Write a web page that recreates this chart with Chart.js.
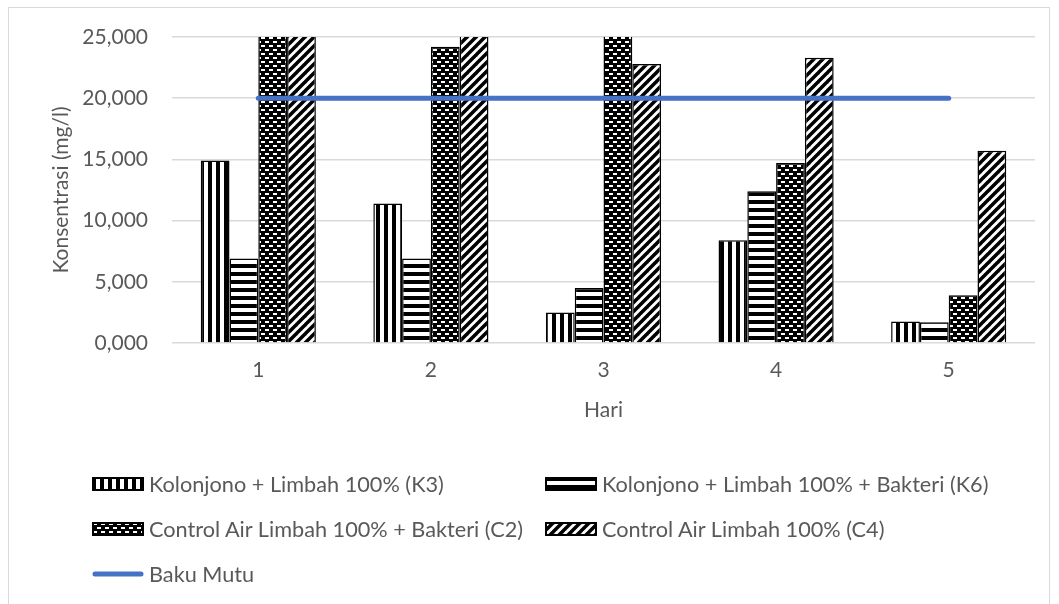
<!DOCTYPE html>
<html>
<head>
<meta charset="utf-8">
<script src="https://cdn.jsdelivr.net/npm/chart.js@4.4.0/dist/chart.umd.min.js"></script>
<style>
  body { margin: 0; background: #fff; font-family: Lato, "Open Sans", sans-serif; }
  #wrap { position: relative; width: 1059px; height: 604px; overflow: hidden; }
  #frame { position: absolute; left: 8px; top: 7px; width: 1042px; height: 640px; border: 1px solid #d9d9d9; box-sizing: border-box; }
  #chart { position: absolute; left: 0; top: 0; }
  .item { position: absolute; height: 26px; display: flex; align-items: center; color: #595959; font-size: 21.7px; white-space: nowrap; }
  .item canvas { margin-right: 5px; }
</style>
</head>
<body>
<div id="wrap">
  <div id="frame"></div>
  <canvas id="chart" width="1059" height="604"></canvas>
  <div id="legend"></div>
</div>
<script>
// data (mg/l), sumbu dipotong di 25
const days = ['1', '2', '3', '4', '5'];
const k3 = [14.9, 11.4, 2.5, 8.4, 1.75];
const k6 = [6.9, 6.9, 4.5, 12.4, 1.7];
const c2 = [27.0, 24.2, 26.5, 14.7, 3.9];
const c4 = [28.5, 27.5, 22.8, 23.3, 15.7];
const bakuMutu = [20, 20, 20, 20, 20];
const yTicks = [0, 5, 10, 15, 20, 25];

const labels = [
  'Kolonjono + Limbah 100% (K3)',
  'Kolonjono + Limbah 100% + Bakteri (K6)',
  'Control Air Limbah 100% + Bakteri (C2)',
  'Control Air Limbah 100% (C4)',
  'Baku Mutu'
];

// bikin pattern hitam-putih ala Excel
function patternTile(kind) {
  const s = kind === 'diag' ? 9 : 8;
  const c = document.createElement('canvas');
  c.width = s; c.height = s;
  const g = c.getContext('2d');
  g.fillStyle = '#fff';
  g.fillRect(0, 0, s, s);
  g.fillStyle = '#000';
  if (kind === 'vert') {
    g.fillRect(0, 0, 4, s);
  } else if (kind === 'horiz') {
    g.fillRect(0, 0, s, 4);
  } else if (kind === 'brick') {
    g.fillRect(0, 0, s, s);
    g.fillStyle = '#fff';
    g.fillRect(1, 1, 4, 2);
    g.fillRect(5, 5, 3, 2);
    g.fillRect(0, 5, 1, 2);
  } else if (kind === 'diag') {
    g.strokeStyle = '#000';
    g.lineWidth = 3.5;
    for (let o = -s; o <= s; o += s) {
      g.beginPath();
      g.moveTo(o - 1, s + 1);
      g.lineTo(o + s + 1, -1);
      g.stroke();
    }
  }
  return c;
}

function makePattern(ctx, kind) {
  return ctx.createPattern(patternTile(kind), 'repeat');
}

const ctx = document.getElementById('chart').getContext('2d');
const kinds = ['vert', 'horiz', 'brick', 'diag'];
const series = [k3, k6, c2, c4];

const barSets = series.map((vals, i) => ({
  type: 'bar',
  label: labels[i],
  data: vals,
  backgroundColor: makePattern(ctx, kinds[i]),
  borderColor: '#000',
  borderWidth: 1.5,
  categoryPercentage: 0.667,
  barPercentage: 1,
  order: 1
}));

const font = { family: 'Lato', size: 21 };

new Chart(ctx, {
  data: {
    labels: days,
    datasets: [
      ...barSets,
      {
        type: 'line',
        label: labels[4],
        data: bakuMutu,
        borderColor: '#4472C4',
        borderWidth: 5,
        borderCapStyle: 'round',
        pointRadius: 0,
        order: 0
      }
    ]
  },
  options: {
    responsive: false,
    animation: false,
    layout: { padding: { top: 37, right: 24, left: 0, bottom: 181 } },
    plugins: {
      legend: { display: false },
      tooltip: { enabled: false }
    },
    scales: {
      x: {
        grid: { display: false },
        border: { display: false },
        ticks: { color: '#595959', font: font, padding: 7 },
        title: { display: true, text: 'Hari', color: '#595959', font: font, padding: { top: 0, bottom: 0 } },
        afterFit: s => { s.height = 80; }
      },
      y: {
        min: 0,
        max: 25,
        afterBuildTicks: s => { s.ticks = yTicks.map(v => ({ value: v })); },
        grid: { color: '#d9d9d9', lineWidth: 1.5, drawTicks: false },
        border: { display: false },
        ticks: {
          color: '#595959',
          font: font,
          padding: 24,
          callback: v => v.toFixed(3).replace('.', ',')
        },
        title: { display: true, text: 'Konsentrasi (mg/l)', color: '#595959', font: font, padding: { top: 49, bottom: 0 } },
        afterFit: s => { s.width = 172; }
      }
    }
  }
});

// legenda 2 kolom seperti Excel
const legendPos = [
  [92, 484], [545, 484],
  [92, 529], [545, 529],
  [92, 574]
];
const legendEl = document.getElementById('legend');
labels.forEach((txt, i) => {
  const item = document.createElement('div');
  item.className = 'item';
  item.style.left = legendPos[i][0] + 'px';
  item.style.top = (legendPos[i][1] - 13) + 'px';
  const sw = document.createElement('canvas');
  sw.width = 52; sw.height = 14;
  const g = sw.getContext('2d');
  if (i < 4) {
    g.fillStyle = g.createPattern(patternTile(kinds[i]), 'repeat');
    g.fillRect(0, 0, 52, 14);
    g.strokeStyle = '#000';
    g.lineWidth = 2;
    g.strokeRect(1, 1, 50, 12);
  } else {
    g.strokeStyle = '#4472C4';
    g.lineWidth = 5;
    g.lineCap = 'round';
    g.beginPath();
    g.moveTo(3, 7);
    g.lineTo(49, 7);
    g.stroke();
  }
  item.appendChild(sw);
  const span = document.createElement('span');
  span.textContent = txt;
  item.appendChild(span);
  legendEl.appendChild(item);
});
</script>
</body>
</html>
